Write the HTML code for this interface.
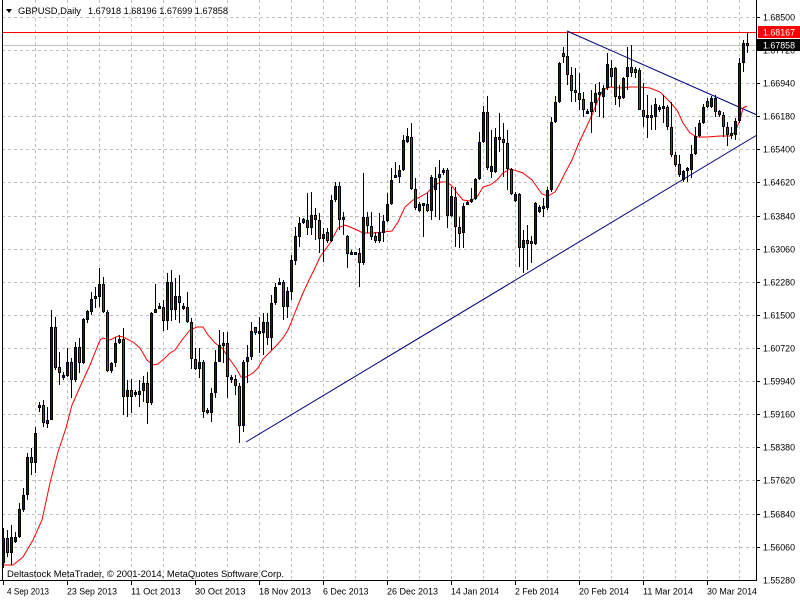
<!DOCTYPE html>
<html><head><meta charset="utf-8"><style>
html,body{margin:0;padding:0;background:#fff;}
svg{display:block;}
text{font-family:"Liberation Sans",sans-serif;font-size:9px;fill:#000;}
</style></head><body>
<svg width="800" height="600" viewBox="0 0 800 600" xmlns="http://www.w3.org/2000/svg">
<rect x="0" y="0" width="800" height="600" fill="#fff"/>
<g stroke="#c0c0c0" stroke-width="1" stroke-dasharray="3,3" shape-rendering="crispEdges">
<path d="M2 17.5H756M2 50.5H756M2 83.5H756M2 116.5H756M2 149.5H756M2 182.5H756M2 216.5H756M2 249.5H756M2 282.5H756M2 315.5H756M2 348.5H756M2 381.5H756M2 414.5H756M2 447.5H756M2 480.5H756M2 514.5H756M2 547.5H756"/>
<path d="M35.5 0V580M67.5 0V580M99.5 0V580M131.5 0V580M163.5 0V580M195.5 0V580M227.5 0V580M259.5 0V580M291.5 0V580M323.5 0V580M355.5 0V580M387.5 0V580M419.5 0V580M451.5 0V580M483.5 0V580M515.5 0V580M547.5 0V580M579.5 0V580M611.5 0V580M643.5 0V580M675.5 0V580M707.5 0V580M739.5 0V580"/>
</g>
<path d="M2 45.5H756" stroke="#c0c0c0" stroke-width="1" shape-rendering="crispEdges"/>
<path d="M2 32.5H756" stroke="#ff0000" stroke-width="1" shape-rendering="crispEdges"/>
<g stroke="#000080" stroke-width="1" fill="none">
<path d="M246 442L757 135"/>
<path d="M567 31L757 115"/>
</g>
<path fill="none" stroke="#ff0000" stroke-width="1" d="M3 565L13 565L23 557L33 540L42 520L50 483L58 452L66 428L72 405L80 387L90 365L100 340L103 338L110 340L118 336L123 337L133 342L140 348L147 360L153 365L158 364L165 358L170 353L175 350L182 340L190 330L197 327L203 327L208 335L215 343L222 348L228 357L236 368L241 377L246 377L253 373L258 368L263 359L269 353L276 346L283 338L288 330L291 323L296 310L303 293L309 280L314 270L320 257L330 243L338 228L345 225L350 227L357 230L363 233L373 233L383 232L392 231L398 222L405 207L413 200L420 197L427 193L433 187L440 182L447 182L452 186L457 193L463 200L470 201L477 197L483 187L490 185L497 180L503 173L510 169L517 171L523 173L532 180L537 187L542 194L548 196L555 192L560 183L565 173L572 160L578 145L585 130L592 115L598 100L603 90L610 87L620 88L630 87L640 87L650 88L660 92L670 102L677 110L683 123L690 133L697 137L707 137L720 136L730 136L735 132L740 120L743 108L747 106"/>
<path stroke="#000" stroke-width="1" fill="none" shape-rendering="crispEdges" d="M3.5 528V568M7.5 530V557M11.5 525V565M15.5 532V543M19.5 503V538M23.5 488V512M27.5 453V500M31.5 448V475M35.5 427V473M39.5 402V412M43.5 400V427M47.5 407V428M51.5 310V420M55.5 317V370M59.5 352V385M63.5 372V380M67.5 348V377M71.5 358V398M75.5 342V382M79.5 338V373M83.5 318V364M87.5 310V323M91.5 292V315M95.5 287V308M99.5 268V307M103.5 277V313M107.5 310V372M111.5 362V373M115.5 337V367M119.5 335V344M123.5 328V415M127.5 380V417M131.5 379V413M135.5 390V397M139.5 380V407M143.5 376V402M147.5 372V424M151.5 312V405M155.5 284V313M159.5 303V309M163.5 300V331M167.5 273V330M171.5 270V321M175.5 278V320M179.5 275V323M183.5 303V310M187.5 292V323M191.5 318V369M195.5 348V370M199.5 348V378M203.5 360V418M207.5 408V414M211.5 388V422M215.5 350V398M219.5 330V362M223.5 332V363M227.5 332V398M231.5 375V383M235.5 375V395M239.5 383V443M243.5 360V432M247.5 345V383M251.5 322V360M255.5 327V335M259.5 317V353M263.5 313V355M267.5 313V345M271.5 295V350M275.5 283V305M279.5 278V285M283.5 280V320M287.5 287V318M291.5 255V300M295.5 227V265M299.5 217V247M303.5 218V224M307.5 193V235M311.5 192V235M315.5 208V240M319.5 213V253M323.5 228V262M327.5 228V243M331.5 195V242M335.5 182V202M339.5 182V230M343.5 212V235M347.5 235V268M351.5 250V255M355.5 252V255M359.5 248V287M363.5 173V265M367.5 212V233M371.5 212V240M375.5 232V243M379.5 213V243M383.5 215V242M387.5 193V222M391.5 168V205M395.5 162V178M399.5 165V183M403.5 135V171M407.5 128V143M411.5 123V190M415.5 178V210M419.5 202V212M423.5 203V237M427.5 193V212M431.5 175V220M435.5 167V217M439.5 160V220M443.5 168V175M447.5 168V228M451.5 187V217M455.5 187V247M459.5 217V248M463.5 203V248M467.5 201V205M471.5 188V203M475.5 178V200M479.5 132V180M483.5 106V143M487.5 96V170M491.5 130V178M495.5 128V173M499.5 113V152M503.5 123V177M507.5 130V190M511.5 168V195M515.5 192V202M519.5 193V267M523.5 230V273M527.5 225V270M531.5 236V263M535.5 202V245M539.5 205V213M543.5 198V217M547.5 187V210M551.5 117V192M555.5 96V123M559.5 62V103M563.5 47V63M567.5 32V85M571.5 67V102M575.5 68V102M579.5 73V110M583.5 92V117M587.5 109V114M591.5 90V133M595.5 84V112M599.5 82V117M603.5 85V118M607.5 53V90M611.5 60V87M615.5 67V105M619.5 85V107M623.5 77V99M627.5 47V90M631.5 45V77M635.5 67V78M639.5 68V110M643.5 83V127M647.5 95V138M651.5 105V130M655.5 98V130M659.5 105V112M663.5 95V123M667.5 105V130M671.5 102V157M675.5 152V167M679.5 155V177M683.5 170V182M687.5 167V182M691.5 145V178M695.5 127V155M699.5 120V137M703.5 104V124M707.5 98V108M711.5 96V108M715.5 95V117M719.5 110V117M723.5 112V137M727.5 122V146M731.5 127V139M735.5 118V140M739.5 58V123M743.5 40V72M747.5 32V53"/>
<path fill="#000" shape-rendering="crispEdges" d="M2 538h3v25h-3zM6 538h3v15h-3zM10 537h3v16h-3zM14 537h3v5h-3zM18 509h3v28h-3zM22 495h3v15h-3zM26 457h3v38h-3zM30 457h3v6h-3zM34 433h3v30h-3zM38 405h3v3h-3zM42 405h3v18h-3zM46 420h3v4h-3zM50 327h3v93h-3zM54 327h3v41h-3zM58 367h3v6h-3zM62 375h3v3h-3zM66 362h3v14h-3zM70 362h3v18h-3zM74 347h3v33h-3zM78 347h3v16h-3zM82 319h3v44h-3zM86 311h3v9h-3zM90 299h3v13h-3zM94 296h3v3h-3zM98 284h3v13h-3zM102 284h3v28h-3zM106 312h3v59h-3zM110 363h3v8h-3zM114 343h3v20h-3zM118 339h3v4h-3zM122 339h3v58h-3zM126 390h3v7h-3zM130 390h3v7h-3zM134 392h3v3h-3zM138 391h3v4h-3zM142 383h3v8h-3zM146 383h3v20h-3zM150 313h3v90h-3zM154 309h3v4h-3zM158 306h3v3h-3zM162 307h3v14h-3zM166 282h3v39h-3zM170 282h3v28h-3zM174 296h3v14h-3zM178 296h3v7h-3zM182 306h3v3h-3zM186 307h3v15h-3zM190 322h3v37h-3zM194 359h3v10h-3zM198 362h3v7h-3zM202 362h3v50h-3zM206 410h3v3h-3zM210 393h3v20h-3zM214 362h3v31h-3zM218 345h3v17h-3zM222 343h3v3h-3zM226 343h3v34h-3zM230 377h3v3h-3zM234 379h3v7h-3zM238 386h3v40h-3zM242 362h3v64h-3zM246 357h3v5h-3zM250 331h3v26h-3zM254 327h3v6h-3zM258 331h3v3h-3zM262 322h3v11h-3zM266 322h3v16h-3zM270 303h3v35h-3zM274 287h3v16h-3zM278 282h3v3h-3zM282 282h3v25h-3zM286 291h3v16h-3zM290 260h3v32h-3zM294 236h3v25h-3zM298 223h3v14h-3zM302 219h3v4h-3zM306 220h3v8h-3zM310 215h3v13h-3zM314 215h3v5h-3zM318 220h3v19h-3zM322 234h3v5h-3zM326 232h3v9h-3zM330 200h3v41h-3zM334 186h3v14h-3zM338 186h3v34h-3zM342 217h3v3h-3zM346 236h3v18h-3zM350 252h3v3h-3zM354 252h3v3h-3zM358 253h3v10h-3zM362 217h3v46h-3zM366 217h3v9h-3zM370 226h3v11h-3zM374 236h3v5h-3zM378 232h3v9h-3zM382 221h3v12h-3zM386 204h3v17h-3zM390 180h3v24h-3zM394 175h3v3h-3zM398 170h3v7h-3zM402 140h3v30h-3zM406 136h3v6h-3zM410 137h3v52h-3zM414 189h3v19h-3zM418 204h3v7h-3zM422 203h3v3h-3zM426 204h3v7h-3zM430 177h3v34h-3zM434 178h3v12h-3zM438 174h3v4h-3zM442 170h3v3h-3zM446 170h3v46h-3zM450 196h3v20h-3zM454 197h3v30h-3zM458 227h3v7h-3zM462 206h3v27h-3zM466 202h3v3h-3zM470 199h3v3h-3zM474 179h3v20h-3zM478 142h3v37h-3zM482 112h3v30h-3zM486 112h3v56h-3zM490 166h3v6h-3zM494 137h3v35h-3zM498 137h3v3h-3zM502 139h3v4h-3zM506 143h3v26h-3zM510 169h3v25h-3zM514 194h3v7h-3zM518 194h3v54h-3zM522 240h3v8h-3zM526 240h3v4h-3zM530 241h3v3h-3zM534 203h3v41h-3zM538 207h3v5h-3zM542 206h3v3h-3zM546 190h3v18h-3zM550 122h3v68h-3zM554 102h3v20h-3zM558 63h3v39h-3zM562 53h3v4h-3zM566 56h3v19h-3zM570 75h3v16h-3zM574 90h3v3h-3zM578 93h3v7h-3zM582 99h3v11h-3zM586 111h3v3h-3zM590 102h3v10h-3zM594 93h3v10h-3zM598 92h3v3h-3zM602 88h3v9h-3zM606 64h3v24h-3zM610 68h3v9h-3zM614 68h3v29h-3zM618 96h3v3h-3zM622 78h3v20h-3zM626 67h3v10h-3zM630 67h3v6h-3zM634 69h3v4h-3zM638 70h3v40h-3zM642 110h3v7h-3zM646 115h3v3h-3zM650 115h3v3h-3zM654 104h3v13h-3zM658 107h3v3h-3zM662 106h3v3h-3zM666 107h3v20h-3zM670 127h3v28h-3zM674 155h3v10h-3zM678 164h3v11h-3zM682 171h3v9h-3zM686 168h3v3h-3zM690 154h3v16h-3zM694 136h3v18h-3zM698 123h3v13h-3zM702 107h3v16h-3zM706 101h3v6h-3zM710 98h3v9h-3zM714 98h3v14h-3zM718 111h3v4h-3zM722 115h3v12h-3zM726 127h3v8h-3zM730 133h3v3h-3zM734 121h3v14h-3zM738 63h3v58h-3zM742 43h3v20h-3zM746 43h3v3h-3z"/>
<path fill="#0000ff" shape-rendering="crispEdges" d="M3 539h1v23h-1zM11 538h1v14h-1zM15 538h1v3h-1zM19 510h1v26h-1zM23 496h1v13h-1zM27 458h1v36h-1zM35 434h1v28h-1zM39 406h1v1h-1zM47 421h1v2h-1zM51 328h1v91h-1zM63 376h1v1h-1zM67 363h1v12h-1zM75 348h1v31h-1zM83 320h1v42h-1zM87 312h1v7h-1zM91 300h1v11h-1zM95 297h1v1h-1zM99 285h1v11h-1zM111 364h1v6h-1zM115 344h1v18h-1zM119 340h1v2h-1zM127 391h1v5h-1zM135 393h1v1h-1zM139 392h1v2h-1zM143 384h1v6h-1zM151 314h1v88h-1zM155 310h1v2h-1zM159 307h1v1h-1zM167 283h1v37h-1zM175 297h1v12h-1zM183 307h1v1h-1zM199 363h1v5h-1zM211 394h1v18h-1zM215 363h1v29h-1zM219 346h1v15h-1zM223 344h1v1h-1zM231 378h1v1h-1zM243 363h1v62h-1zM247 358h1v3h-1zM251 332h1v24h-1zM259 332h1v1h-1zM263 323h1v9h-1zM271 304h1v33h-1zM275 288h1v14h-1zM279 283h1v1h-1zM287 292h1v14h-1zM291 261h1v30h-1zM295 237h1v23h-1zM299 224h1v12h-1zM303 220h1v2h-1zM311 216h1v11h-1zM323 235h1v3h-1zM331 201h1v39h-1zM335 187h1v12h-1zM343 218h1v1h-1zM351 253h1v1h-1zM355 253h1v1h-1zM363 218h1v44h-1zM379 233h1v7h-1zM383 222h1v10h-1zM387 205h1v15h-1zM391 181h1v22h-1zM395 176h1v1h-1zM399 171h1v5h-1zM403 141h1v28h-1zM407 137h1v4h-1zM419 205h1v5h-1zM423 204h1v1h-1zM431 178h1v32h-1zM435 179h1v10h-1zM439 175h1v2h-1zM443 171h1v1h-1zM451 197h1v18h-1zM463 207h1v25h-1zM467 203h1v1h-1zM471 200h1v1h-1zM475 180h1v18h-1zM479 143h1v35h-1zM483 113h1v28h-1zM491 167h1v4h-1zM495 138h1v33h-1zM515 195h1v5h-1zM523 241h1v6h-1zM535 204h1v39h-1zM539 208h1v3h-1zM543 207h1v1h-1zM547 191h1v16h-1zM551 123h1v66h-1zM555 103h1v18h-1zM559 64h1v37h-1zM587 112h1v1h-1zM591 103h1v8h-1zM595 94h1v8h-1zM599 93h1v1h-1zM603 89h1v7h-1zM607 65h1v22h-1zM623 79h1v18h-1zM627 68h1v8h-1zM647 116h1v1h-1zM651 116h1v1h-1zM655 105h1v11h-1zM659 108h1v1h-1zM663 107h1v1h-1zM683 172h1v7h-1zM687 169h1v1h-1zM691 155h1v14h-1zM695 137h1v16h-1zM699 124h1v11h-1zM703 108h1v14h-1zM711 99h1v7h-1zM735 122h1v12h-1zM739 64h1v56h-1zM743 44h1v18h-1z"/>
<path fill="#ff0000" shape-rendering="crispEdges" d="M7 539h1v13h-1zM31 458h1v4h-1zM43 406h1v16h-1zM55 328h1v39h-1zM59 368h1v4h-1zM71 363h1v16h-1zM79 348h1v14h-1zM103 285h1v26h-1zM107 313h1v57h-1zM123 340h1v56h-1zM131 391h1v5h-1zM147 384h1v18h-1zM163 308h1v12h-1zM171 283h1v26h-1zM179 297h1v5h-1zM187 308h1v13h-1zM191 323h1v35h-1zM195 360h1v8h-1zM203 363h1v48h-1zM207 411h1v1h-1zM227 344h1v32h-1zM235 380h1v5h-1zM239 387h1v38h-1zM255 328h1v4h-1zM267 323h1v14h-1zM283 283h1v23h-1zM307 221h1v6h-1zM315 216h1v3h-1zM319 221h1v17h-1zM327 233h1v7h-1zM339 187h1v32h-1zM347 237h1v16h-1zM359 254h1v8h-1zM367 218h1v7h-1zM371 227h1v9h-1zM375 237h1v3h-1zM411 138h1v50h-1zM415 190h1v17h-1zM427 205h1v5h-1zM447 171h1v44h-1zM455 198h1v28h-1zM459 228h1v5h-1zM487 113h1v54h-1zM499 138h1v1h-1zM503 140h1v2h-1zM507 144h1v24h-1zM511 170h1v23h-1zM519 195h1v52h-1zM527 241h1v2h-1zM531 242h1v1h-1zM563 54h1v2h-1zM567 57h1v17h-1zM571 76h1v14h-1zM575 91h1v1h-1zM579 94h1v5h-1zM583 100h1v9h-1zM611 69h1v7h-1zM615 69h1v27h-1zM619 97h1v1h-1zM631 68h1v4h-1zM635 70h1v2h-1zM639 71h1v38h-1zM643 111h1v5h-1zM667 108h1v18h-1zM671 128h1v26h-1zM675 156h1v8h-1zM679 165h1v9h-1zM707 102h1v4h-1zM715 99h1v12h-1zM719 112h1v2h-1zM723 116h1v10h-1zM727 128h1v6h-1zM731 134h1v1h-1zM747 44h1v1h-1z"/>
<rect x="757" y="0" width="43" height="600" fill="#fff"/>
<rect x="0" y="581" width="800" height="19" fill="#fff"/>
<g stroke="#000" stroke-width="1" shape-rendering="crispEdges" fill="none">
<path d="M2.5 0V581"/>
<path d="M756.5 0V581"/>
<path d="M0 580.5H757"/>
<path d="M757 17.5h3M757 50.5h3M757 83.5h3M757 116.5h3M757 149.5h3M757 182.5h3M757 216.5h3M757 249.5h3M757 282.5h3M757 315.5h3M757 348.5h3M757 381.5h3M757 414.5h3M757 447.5h3M757 480.5h3M757 514.5h3M757 547.5h3"/>
<path d="M3.5 581v4M67.5 581v4M131.5 581v4M195.5 581v4M259.5 581v4M323.5 581v4M387.5 581v4M451.5 581v4M515.5 581v4M579.5 581v4M643.5 581v4M707.5 581v4"/>
</g>
<g>
<text x="763" y="20.5" textLength="32" lengthAdjust="spacingAndGlyphs">1.68500</text>
<text x="763" y="53.5" textLength="32" lengthAdjust="spacingAndGlyphs">1.67720</text>
<text x="763" y="86.5" textLength="32" lengthAdjust="spacingAndGlyphs">1.66940</text>
<text x="763" y="119.5" textLength="32" lengthAdjust="spacingAndGlyphs">1.66180</text>
<text x="763" y="152.5" textLength="32" lengthAdjust="spacingAndGlyphs">1.65400</text>
<text x="763" y="185.5" textLength="32" lengthAdjust="spacingAndGlyphs">1.64620</text>
<text x="763" y="219.5" textLength="32" lengthAdjust="spacingAndGlyphs">1.63840</text>
<text x="763" y="252.5" textLength="32" lengthAdjust="spacingAndGlyphs">1.63060</text>
<text x="763" y="285.5" textLength="32" lengthAdjust="spacingAndGlyphs">1.62280</text>
<text x="763" y="318.5" textLength="32" lengthAdjust="spacingAndGlyphs">1.61500</text>
<text x="763" y="351.5" textLength="32" lengthAdjust="spacingAndGlyphs">1.60720</text>
<text x="763" y="384.5" textLength="32" lengthAdjust="spacingAndGlyphs">1.59940</text>
<text x="763" y="417.5" textLength="32" lengthAdjust="spacingAndGlyphs">1.59160</text>
<text x="763" y="450.5" textLength="32" lengthAdjust="spacingAndGlyphs">1.58380</text>
<text x="763" y="483.5" textLength="32" lengthAdjust="spacingAndGlyphs">1.57620</text>
<text x="763" y="517.5" textLength="32" lengthAdjust="spacingAndGlyphs">1.56840</text>
<text x="763" y="550.5" textLength="32" lengthAdjust="spacingAndGlyphs">1.56060</text>
<text x="763" y="583.5" textLength="32" lengthAdjust="spacingAndGlyphs">1.55280</text>
</g>
<rect x="758" y="26" width="42" height="12" fill="#ff0000"/>
<text x="763" y="35.5" textLength="32" lengthAdjust="spacingAndGlyphs" style="fill:#fff">1.68167</text>
<rect x="757" y="39" width="43" height="12" fill="#000"/>
<text x="763" y="48.5" textLength="32" lengthAdjust="spacingAndGlyphs" style="fill:#fff">1.67858</text>
<g>
<text x="7" y="594.5" textLength="42" lengthAdjust="spacingAndGlyphs">4 Sep 2013</text>
<text x="67" y="594.5" textLength="50" lengthAdjust="spacingAndGlyphs">23 Sep 2013</text>
<text x="131" y="594.5" textLength="49.5" lengthAdjust="spacingAndGlyphs">11 Oct 2013</text>
<text x="195" y="594.5" textLength="50.5" lengthAdjust="spacingAndGlyphs">30 Oct 2013</text>
<text x="259" y="594.5" textLength="52" lengthAdjust="spacingAndGlyphs">18 Nov 2013</text>
<text x="323" y="594.5" textLength="45.5" lengthAdjust="spacingAndGlyphs">6 Dec 2013</text>
<text x="387" y="594.5" textLength="51" lengthAdjust="spacingAndGlyphs">26 Dec 2013</text>
<text x="451" y="594.5" textLength="48" lengthAdjust="spacingAndGlyphs">14 Jan 2014</text>
<text x="515" y="594.5" textLength="44" lengthAdjust="spacingAndGlyphs">2 Feb 2014</text>
<text x="579" y="594.5" textLength="50" lengthAdjust="spacingAndGlyphs">20 Feb 2014</text>
<text x="643" y="594.5" textLength="50" lengthAdjust="spacingAndGlyphs">11 Mar 2014</text>
<text x="707" y="594.5" textLength="50" lengthAdjust="spacingAndGlyphs">30 Mar 2014</text>
</g>
<polygon points="6,9 12,9 9,13" fill="#000"/>
<text x="18" y="14" textLength="63" lengthAdjust="spacingAndGlyphs">GBPUSD,Daily</text>
<text x="88" y="14" textLength="140" lengthAdjust="spacingAndGlyphs">1.67918 1.68196 1.67699 1.67858</text>
<text x="7" y="577" textLength="277" lengthAdjust="spacingAndGlyphs">Deltastock MetaTrader, © 2001-2014, MetaQuotes Software Corp.</text>
</svg>
</body></html>
